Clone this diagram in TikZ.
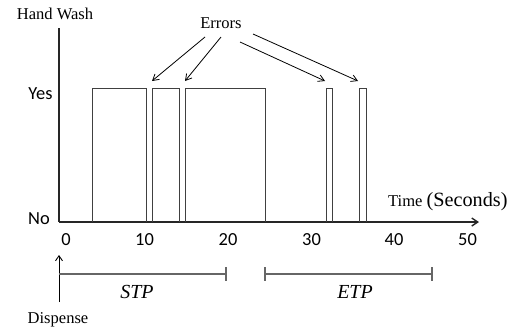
\documentclass[tikz,border=0pt]{standalone}
\usepackage{fontspec}
\setmainfont{Liberation Serif}
\newfontfamily\calib{Carlito}
\usetikzlibrary{arrows.meta}
\begin{document}
\begin{tikzpicture}[x=1bp,y=-1bp,
  axis/.style={line width=1.4bp,black!85},
  bar/.style={line width=0.9bp,black!75},
  errarrow/.style={line width=0.8bp,-{Straight Barb[length=6bp,width=7bp]}},
  brk/.style={line width=1.1bp,black!60},
  serif/.style={font=\fontsize{16.6}{18}\selectfont,inner sep=0pt,anchor=base},
  sans/.style={font=\calib\fontsize{18.5}{20}\selectfont,inner sep=0pt,anchor=base},
  ital/.style={font=\itshape\fontsize{20}{22}\selectfont,inner sep=0pt,anchor=base}]
\useasboundingbox (0,0) rectangle (522,332);
% axes
\coordinate (origin) at (59,222);
\coordinate (ytop) at (59,28);
\coordinate (xend) at (479,222);
\draw[axis] (ytop) -- (origin);
\draw[axis,-{Straight Barb[length=6bp,width=8bp]}] (origin) -- (xend);
% bars
\foreach \a/\b in {92/146, 152/179, 185/265, 326/332, 359/366}
  \draw[bar] (\a,222) -- (\a,88) -- (\b,88) -- (\b,222);
% labels
\node[serif] (hw) at (55,19) {Hand Wash};
\node[sans] (yes) at (40.5,99) {Yes};
\node[sans] (no) at (39,224) {No};
\node[serif,anchor=base west] (time) at (388,206) {Time \fontsize{20.3}{22}\selectfont(Seconds)};
\foreach \t/\x in {0/66, 10/144.5, 20/228, 30/311.5, 40/394, 50/467.5}
  \node[sans] (t\t) at (\x,245) {\t};
% errors
\node[serif] (err) at (221,28) {Errors};
\coordinate (s1) at (205,37);
\coordinate (s2) at (221,37);
\coordinate (s3) at (240,42);
\coordinate (s4) at (253,34);
\coordinate (e1) at (152,81);
\coordinate (e2) at (185,81);
\coordinate (e3) at (325,81);
\coordinate (e4) at (358,81);
\draw[errarrow] (s1) -- (e1);
\draw[errarrow] (s2) -- (e2);
\draw[errarrow] (s3) -- (e3);
\draw[errarrow] (s4) -- (e4);
% dispense
\coordinate (dbot) at (59,302);
\coordinate (dtop) at (59,255);
\draw[line width=0.9bp,-{Straight Barb[length=5bp,width=7bp]}] (dbot) -- (dtop);
\node[serif] (disp) at (58,323) {Dispense};
% brackets
\coordinate (stpL) at (59,274);
\coordinate (stpR) at (226,274);
\coordinate (etpL) at (265,274);
\coordinate (etpR) at (432,274);
\draw[brk] (stpL) -- (stpR);
\draw[brk] ([yshift=-7]stpR) -- ([yshift=7]stpR);
\draw[brk] (etpL) -- (etpR);
\draw[brk] ([yshift=-7]etpL) -- ([yshift=7]etpL);
\draw[brk] ([yshift=-7]etpR) -- ([yshift=7]etpR);
\node[ital] (stp) at (137,298) {STP};
\node[ital] (etp) at (355,298) {ETP};
\end{tikzpicture}
\end{document}
